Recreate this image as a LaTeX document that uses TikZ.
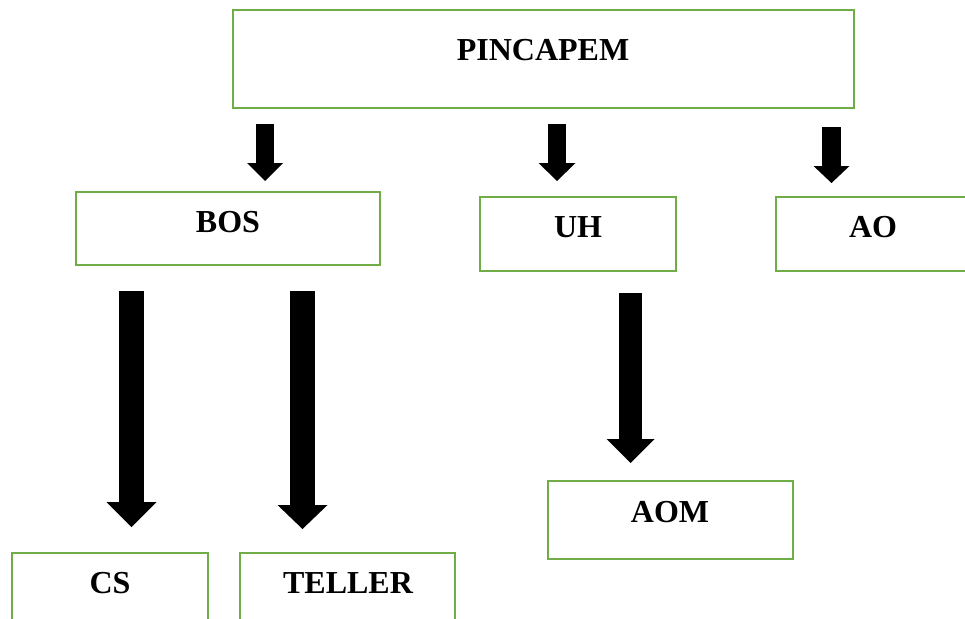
\documentclass[tikz,border=0pt]{standalone}
\usepackage{fontspec}
\setmainfont{Liberation Serif}
\usetikzlibrary{arrows.meta}
\definecolor{boxgreen}{RGB}{112,173,71}
\begin{document}
\begin{tikzpicture}[x=1pt,y=-1pt,
  box/.style={draw=boxgreen, line width=2.5pt, rectangle, inner sep=0pt},
  lbl/.style={anchor=base, font=\fontsize{32}{38}\selectfont\bfseries, inner sep=0pt},
  blockarrow/.style n args={3}{line width=#1, -{Triangle[width=#2,length=#3,line width=0pt]}}
]
\useasboundingbox (0,0) rectangle (965,618);
\clip (0,0) rectangle (965,618);

% boxes
\node[box, minimum width=621pt, minimum height=98pt] (pin) at (543.5,59) {};
\node[box, minimum width=304pt, minimum height=73pt] (bos) at (228,228.5) {};
\node[box, minimum width=196pt, minimum height=74pt] (uh) at (578,234) {};
\node[box, minimum width=194pt, minimum height=74pt] (ao) at (873,234) {};
\node[box, minimum width=245pt, minimum height=78pt] (aom) at (670.5,520) {};
\node[box, minimum width=196pt, minimum height=107pt] (cs) at (110,606.5) {};
\node[box, minimum width=215pt, minimum height=107pt] (teller) at (347.5,606.5) {};

% labels
\node[lbl] (tpin) at (543,60) {PINCAPEM};
\node[lbl] (tbos) at (228,232) {BOS};
\node[lbl] (tuh) at (578,237) {UH};
\node[lbl] (tao) at (873,237) {AO};
\node[lbl] (taom) at (670,522) {AOM};
\node[lbl] (tcs) at (110,593) {CS};
\node[lbl] (tteller) at (348,593) {TELLER};

% arrow end points
\coordinate (a1s) at (265,124);   \coordinate (a1e) at (265,181);
\coordinate (a2s) at (557,124);   \coordinate (a2e) at (557,181);
\coordinate (a3s) at (831.5,127); \coordinate (a3e) at (831.5,183);
\coordinate (a4s) at (131.5,291); \coordinate (a4e) at (131.5,527);
\coordinate (a5s) at (302.5,291); \coordinate (a5e) at (302.5,529);
\coordinate (a6s) at (630.5,293); \coordinate (a6e) at (630.5,463);

% arrows
\draw[blockarrow={18pt}{36pt}{18pt}] (a1s) -- (a1e);
\draw[blockarrow={18pt}{37pt}{18pt}] (a2s) -- (a2e);
\draw[blockarrow={19pt}{36pt}{17pt}] (a3s) -- (a3e);
\draw[blockarrow={25pt}{50pt}{25pt}] (a4s) -- (a4e);
\draw[blockarrow={25pt}{50pt}{24pt}] (a5s) -- (a5e);
\draw[blockarrow={23pt}{48pt}{24pt}] (a6s) -- (a6e);
\end{tikzpicture}
\end{document}
